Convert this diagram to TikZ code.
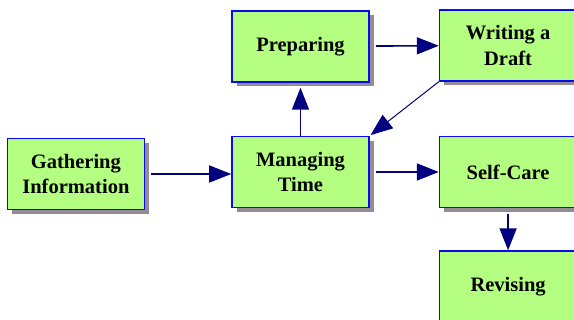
\documentclass[tikz,border=0pt]{standalone}
\usepackage{fontspec}
\setmainfont{Liberation Serif}
\usetikzlibrary{arrows.meta,positioning,shadows}
\definecolor{boxgreen}{RGB}{180,255,130}
\definecolor{boxblue}{RGB}{10,10,240}
\definecolor{arrownavy}{RGB}{0,0,128}
\definecolor{shadowgray}{RGB}{150,140,152}

\begin{document}
\begin{tikzpicture}[
    stage/.style={draw=boxblue, line width=1.6pt, rectangle, fill=boxgreen,
        minimum width=137pt, minimum height=71pt, align=center,
        font=\fontsize{20.5}{25.5}\selectfont\bfseries,
        drop shadow={shadow xshift=4.5pt, shadow yshift=-4.5pt, fill=shadowgray, opacity=1}},
    flow/.style={draw=arrownavy, line width=1.6pt, -{Triangle[length=22pt,width=17pt]}}
  ]
    \useasboundingbox (0,0) rectangle (574pt,-320pt);

    % Center column
    \node[stage] (manage) at (300.5pt,-172pt) {Managing\\Time};
    \node[stage, above=53pt of manage] (prep) {Preparing};

    % Left
    \node[stage, left=86pt of manage, yshift=-2pt] (gather) {Gathering\\Information};

    % Right column
    \node[stage, right=69pt of manage] (self) {Self-Care};
    \node[stage, above=54pt of self] (draft) {Writing a\\Draft};
    \node[stage, below=42pt of self] (revise) {Revising};

    % Arrows
    \draw[flow, shorten <=6pt] (gather) -- (gather -| manage.west);
    \draw[flow, shorten >=5pt] (manage) -- (prep);
    \draw[flow, shorten <=6pt] (prep) -- (draft);
    \draw[flow, line width=1pt, shorten >=1pt] (draft.south west) -- (manage.north east);
    \draw[flow, shorten <=6pt] (manage) -- (self);
    \draw[flow, shorten <=6pt] (self) -- (revise);
\end{tikzpicture}
\end{document}
